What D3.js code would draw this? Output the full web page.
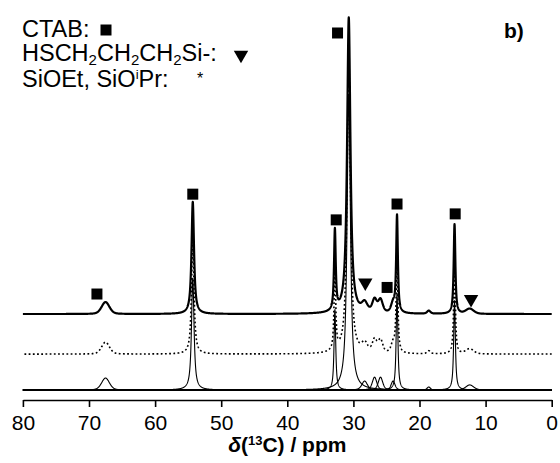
<!DOCTYPE html>
<html>
<head>
<meta charset="utf-8">
<script src="https://cdn.jsdelivr.net/npm/d3@7"></script>
<style>
  html, body { margin: 0; padding: 0; background: #fff; }
  svg { display: block; }
  text { font-family: "Liberation Sans", Arial, sans-serif; fill: #000; }
</style>
</head>
<body>
<svg id="chart" width="560" height="463"></svg>
<script>
// ---------- data ----------
const xTicks = [80, 70, 60, 50, 40, 30, 20, 10, 0];

// fitted peak components (ppm, intensity a.u., FWHM ppm, Lorentzian fraction)
const peakPpm    = [67.5, 54.3, 32.8, 30.7, 28.3, 26.8, 25.9, 24.0, 23.4, 18.6, 14.7, 12.4];
const peakHeight = [4.0, 37.5, 27.0, 99.0, 3.0, 4.3, 4.3, 3.0, 32.5, 1.0, 30.0, 1.7];
const peakFwhm   = [1.4, 0.45, 0.30, 0.60, 1.0, 0.8, 0.8, 0.7, 0.30, 0.6, 0.30, 1.4];
const peakShape  = [0.3, 0.9, 0.9, 0.9, 0.5, 0.5, 0.5, 0.5, 0.9, 0.5, 0.9, 0.3];

// assignment markers (ppm, level on intensity scale, kind)
const markerPpm   = [68.8, 54.3, 32.6, 32.4, 24.9, 23.4, 14.6, 28.2, 12.2];
const markerLevel = [32.1, 65.5, 56.9, 119.4, 34.3, 62.2, 58.9, 35.9, 30.4];
const markerKind  = ["square", "square", "square", "square", "square", "square", "square", "triangle", "triangle"];

// vertical offsets of stacked traces (intensity units)
const offsetExperimental = 25.4;
const offsetFit = 12.0;

// ---------- layout ----------
const svg = d3.select("#chart");
const x = d3.scaleLinear().domain([80, 0]).range([22.9, 551.7]);
const y = d3.scaleLinear().domain([0, 100]).range([390, 91]);
const axisY = 400;

function component(i, ppm) {
  const d = (ppm - peakPpm[i]) / peakFwhm[i];
  const L = 1 / (1 + 4 * d * d);
  const G = Math.exp(-4 * Math.LN2 * d * d);
  return peakHeight[i] * (peakShape[i] * L + (1 - peakShape[i]) * G);
}

const grid = d3.range(0, 80.0001, 0.02);
const sum = grid.map(p => d3.sum(peakPpm, (_, i) => component(i, p)));

const line = d3.line().x(d => x(d[0])).y(d => y(d[1]));

// component curves
peakPpm.forEach((_, i) => {
  const pts = grid.map(p => [p, component(i, p)]);
  svg.append("path").attr("d", line(pts))
    .attr("fill", "none").attr("stroke", "#000").attr("stroke-width", 1.1);
});
// thick baseline under components (overlap of many component baselines)
svg.append("path").attr("d", line([[80, 0], [0, 0]]))
  .attr("fill", "none").attr("stroke", "#000").attr("stroke-width", 1.6);

// fit (dotted)
svg.append("path")
  .attr("d", line(grid.map((p, k) => [p, sum[k] + offsetFit])))
  .attr("fill", "none").attr("stroke", "#000").attr("stroke-width", 1.6)
  .attr("stroke-dasharray", "1.8,2.4");

// experimental (solid, thick)
svg.append("path")
  .attr("d", line(grid.map((p, k) => [p, sum[k] + offsetExperimental])))
  .attr("fill", "none").attr("stroke", "#000").attr("stroke-width", 2.2)
  .attr("stroke-linejoin", "round");

// markers
const sq = d3.symbol(d3.symbolSquare, 121);
const tri = d3.symbol(d3.symbolTriangle, 90);
markerPpm.forEach((p, i) => {
  const g = svg.append("path")
    .attr("fill", "#000")
    .attr("d", markerKind[i] === "square" ? sq() : tri());
  if (markerKind[i] === "square") {
    g.attr("transform", `translate(${x(p)},${y(markerLevel[i])})`);
  } else {
    g.attr("transform", `translate(${x(p)},${y(markerLevel[i])}) rotate(180)`);
  }
});

// x axis
const axis = d3.axisBottom(x).tickValues(xTicks).tickFormat(d3.format("d"))
  .tickSize(7).tickSizeOuter(0).tickPadding(8);
const ga = svg.append("g").attr("transform", `translate(0,${axisY})`).call(axis);
ga.select(".domain").attr("stroke", "#000").attr("stroke-width", 1.6);
ga.selectAll(".tick line").attr("stroke", "#000").attr("stroke-width", 1.6);
ga.selectAll(".tick text").attr("font-size", 21)
  .attr("font-family", "'Liberation Sans', Arial, sans-serif").attr("fill", "#000");

// axis title
const title = svg.append("text").attr("x", (x(80) + x(0)) / 2).attr("y", 452)
  .attr("text-anchor", "middle").attr("font-size", 21).attr("font-weight", "bold");
title.append("tspan").attr("font-style", "italic").text("δ");
title.append("tspan").text("(");
title.append("tspan").attr("font-size", 13).attr("dy", -7).text("13");
title.append("tspan").attr("dy", 7).text("C) / ppm");

// panel label
svg.append("text").attr("x", 504).attr("y", 38).attr("font-size", 21)
  .attr("font-weight", "bold").text("b)");

// legend
const fs = 23.5, fsSub = 15;
const l1 = svg.append("text").attr("x", 22).attr("y", 37).attr("font-size", fs);
l1.text("CTAB:");
svg.append("path").attr("d", sq()).attr("fill", "#000")
  .attr("transform", "translate(106,30)");

const l2 = svg.append("text").attr("x", 22).attr("y", 61).attr("font-size", fs);
l2.append("tspan").text("HSCH");
l2.append("tspan").attr("font-size", fsSub).attr("dy", 4).text("2");
l2.append("tspan").attr("dy", -4).text("CH");
l2.append("tspan").attr("font-size", fsSub).attr("dy", 4).text("2");
l2.append("tspan").attr("dy", -4).text("CH");
l2.append("tspan").attr("font-size", fsSub).attr("dy", 4).text("2");
l2.append("tspan").attr("dy", -4).text("Si-:");
svg.append("path").attr("d", tri()).attr("fill", "#000")
  .attr("transform", "translate(241,55) rotate(180)");

const l3 = svg.append("text").attr("x", 22).attr("y", 87).attr("font-size", fs);
l3.append("tspan").text("SiOEt, SiO");
l3.append("tspan").attr("font-size", 13).attr("dy", -8).text("i");
l3.append("tspan").attr("dy", 8).text("Pr:");
svg.append("text").attr("x", 200).attr("y", 84).attr("font-size", 16)
  .attr("text-anchor", "middle").attr("fill", "#333").text("*");
</script>
</body>
</html>
